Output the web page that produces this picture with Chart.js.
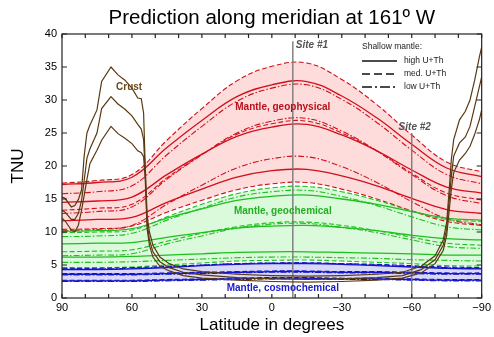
<!DOCTYPE html>
<html>
<head>
<meta charset="utf-8">
<script src="https://cdn.jsdelivr.net/npm/chart.js@4.4.0/dist/chart.umd.min.js"></script>
<style>
  html, body { margin: 0; padding: 0; background: #fff; }
</style>
</head>
<body>
<canvas id="chart" width="494" height="337"></canvas>
<script>
// latitudes for the mantle curves (north to south)
const mantleLat = [90, 75, 60, 45, 30, 15, 0, -15, -30, -45, -60, -75, -90];

// Mantle, geophysical
const physHighUp  = [17.2, 17.5, 18.3, 22.8, 26.9, 30.5, 32.3, 32.8, 30.6, 27.3, 23.3, 19.7, 18.4];
const physHighMid = [14.5, 14.7, 15.3, 18.7, 21.8, 24.5, 25.9, 26.3, 24.7, 22.3, 19.4, 16.8, 15.9];
const physHighLo  = [11.7, 11.9, 12.2, 14.5, 16.5, 18.3, 19.3, 19.5, 18.5, 17.0, 15.1, 13.4, 12.8];
const physMedUp   = [17.4, 17.8, 18.7, 23.9, 28.7, 32.9, 35.1, 35.6, 33.1, 29.3, 24.7, 20.6, 19.1];
const physMedMid  = [13.3, 13.6, 14.2, 18.2, 21.7, 24.8, 26.4, 26.8, 25.0, 22.3, 18.9, 15.9, 14.85];
const physMedLo   = [10.4, 10.5, 10.9, 13.0, 14.8, 16.4, 17.3, 17.5, 16.5, 15.0, 13.2, 11.6, 11.0];
const physLowUp   = [15.8, 16.1, 17.0, 21.7, 26.0, 29.8, 31.8, 32.3, 30.1, 26.6, 22.4, 18.7, 17.3];
const physLowMid  = [12.8, 13.1, 13.8, 18.0, 21.7, 25.0, 26.8, 27.2, 25.3, 22.3, 18.7, 15.5, 14.3];
const physLowLo   = [10.2, 10.4, 11.0, 14.2, 17.1, 19.7, 21.1, 21.4, 19.9, 17.5, 14.6, 12.0, 11.1];

// Mantle, geochemical
const chemHighUp  = [10.1, 10.2, 10.5, 12.1, 13.5, 14.8, 15.4, 15.6, 15.0, 14.2, 13.1, 12.1, 11.8];
const chemHighMid = [8.2, 8.3, 8.4, 9.2, 9.9, 10.6, 10.9, 11.0, 10.7, 10.2, 9.5, 9.0, 8.8];
const chemHighLo  = [6.2, 6.2, 6.3, 6.5, 6.7, 6.9, 7.0, 7.0, 6.9, 6.8, 6.7, 6.5, 6.5];
const chemMedUp   = [9.9, 10.0, 10.3, 12.3, 14.2, 15.8, 16.7, 16.9, 16.1, 14.8, 13.2, 11.9, 11.6];
const chemMedMid  = [7.0, 7.1, 7.3, 8.6, 9.8, 10.8, 11.4, 11.5, 11.0, 10.2, 9.2, 8.3, 8.0];
const chemMedLo   = [4.6, 4.6, 4.7, 5.0, 5.3, 5.6, 5.7, 5.75, 5.6, 5.4, 5.2, 4.9, 4.85];
const chemLowUp   = [9.3, 9.4, 9.8, 11.8, 13.6, 15.3, 16.1, 16.3, 15.4, 14.0, 12.3, 10.8, 10.3];
const chemLowMid  = [6.4, 6.5, 6.7, 8.2, 9.4, 10.6, 11.2, 11.3, 10.7, 9.9, 8.8, 7.8, 7.5];
const chemLowLo   = [5.4, 5.4, 5.5, 5.7, 5.9, 6.1, 6.2, 6.2, 6.1, 6.0, 5.8, 5.7, 5.6];

// Mantle, cosmochemical
const cosmHighUp  = [4.3, 4.3, 4.4, 4.6, 4.9, 5.1, 5.2, 5.2, 5.1, 4.9, 4.7, 4.5, 4.4];
const cosmHighMid = [3.6, 3.6, 3.6, 3.7, 3.8, 3.9, 4.0, 4.0, 3.9, 3.9, 3.8, 3.7, 3.7];
const cosmHighLo  = [2.6, 2.6, 2.6, 2.7, 2.8, 2.9, 3.0, 3.0, 2.9, 2.9, 2.8, 2.7, 2.7];
const cosmMedUp   = [4.5, 4.5, 4.6, 4.8, 5.0, 5.2, 5.3, 5.35, 5.2, 5.1, 4.9, 4.7, 4.6];
const cosmMedMid  = [3.7, 3.7, 3.7, 3.8, 3.9, 4.0, 4.1, 4.1, 4.0, 4.0, 3.9, 3.8, 3.8];
const cosmMedLo   = [2.7, 2.7, 2.7, 2.8, 2.9, 3.0, 3.1, 3.1, 3.0, 3.0, 2.9, 2.8, 2.8];
const cosmLowUp   = [4.4, 4.4, 4.5, 4.7, 5.0, 5.2, 5.3, 5.3, 5.2, 5.0, 4.8, 4.6, 4.5];
const cosmLowMid  = [3.5, 3.5, 3.5, 3.6, 3.7, 3.8, 3.9, 3.9, 3.8, 3.8, 3.7, 3.6, 3.6];
const cosmLowLo   = [2.5, 2.5, 2.5, 2.6, 2.7, 2.8, 2.9, 2.9, 2.8, 2.8, 2.7, 2.6, 2.6];

// Crust (three models)
const crustLat  = [90, 88.7, 86, 84.5, 83, 81.6, 80.5, 79.3, 78, 75, 73, 69, 66, 63, 60, 57.5, 56, 55, 54.3, 53.5,
                   52.5, 51, 48, 44, 38, 30, 15, 0, -15, -30, -45, -56, -64, -70, -73.5, -75, -76, -77, -78, -80.5,
                   -83, -85, -87, -89, -90];
const crustHigh = [15.3, 15.1, 13.8, 14.0, 14.9, 16.4, 21.5, 25.0, 26.2, 28.5, 32.8, 35.0, 33.8, 33.0, 31.8, 30.3, 30.2, 28.0, 20.0, 12.5,
                   10.0, 8.0, 6.2, 5.2, 4.4, 4.0, 3.6, 3.4, 3.3, 3.4, 3.6, 3.9, 4.8, 6.4, 8.8, 11.5, 16.0, 21.0, 24.0, 27.0,
                   28.3, 30.0, 33.0, 36.5, 38.0];
const crustMid  = [13.3, 13.0, 11.9, 11.9, 12.8, 14.8, 17.8, 21.2, 22.6, 25.0, 28.7, 30.5, 29.4, 28.6, 27.6, 26.3, 25.6, 24.0, 19.0, 11.5,
                   8.8, 7.0, 5.5, 4.6, 3.9, 3.5, 3.1, 2.9, 2.8, 2.9, 3.1, 3.4, 4.3, 5.8, 8.0, 10.5, 14.5, 18.5, 21.5, 23.5,
                   24.4, 26.0, 29.0, 32.0, 33.5];
const crustLow  = [12.1, 11.7, 10.3, 10.0, 11.0, 13.3, 15.5, 18.0, 20.4, 22.4, 23.9, 26.0, 24.9, 24.2, 23.4, 22.3, 22.0, 21.4, 18.0, 10.5,
                   8.0, 6.2, 4.8, 4.1, 3.4, 3.0, 2.7, 2.5, 2.4, 2.5, 2.7, 3.0, 3.8, 5.2, 7.2, 9.5, 13.0, 16.5, 19.0, 20.9,
                   21.9, 23.0, 24.8, 27.0, 28.5];

// sites
const siteLat = [-9, -60];
const siteTop = [38.9, 25.0];
const siteNames = ['Site #1', 'Site #2'];

const FONT = "'Liberation Sans', Arial, Helvetica, sans-serif";
const RED = '#d0101c', GREEN = '#1fbf1f', BLUE = '#1414c8', BROWN = '#5a3912';
const DASH = { high: [], med: [5, 2.5], low: [6, 2, 1.5, 2] };

function mantleLine(values, color, style) {
    return {
        data: mantleLat.map((lat, i) => ({ x: lat, y: values[i] })),
        borderColor: color,
        borderWidth: style === 'high' ? 1.3 : 1.1,
        borderDash: DASH[style],
        pointRadius: 0,
        tension: 0.4,
        fill: false
    };
}

function crustLine(values) {
    return {
        data: crustLat.map((lat, i) => ({ x: lat, y: values[i] })),
        borderColor: BROWN,
        borderWidth: 1.2,
        pointRadius: 0,
        tension: 0,
        fill: false
    };
}

const datasets = [];
datasets.push(crustLine(crustHigh), crustLine(crustMid), crustLine(crustLow));
siteLat.forEach((lat, i) => {
    datasets.push({
        data: [{ x: lat, y: 0 }, { x: lat, y: siteTop[i] }],
        borderColor: '#7a7a7a', borderWidth: 1.4, pointRadius: 0, fill: false
    });
});

function addBand(lines, color, fillColor) {
    const start = datasets.length;
    lines.forEach(([vals, style]) => datasets.push(mantleLine(vals, color, style)));
    // fill between the band's upper (first) and lower (last) line
    datasets[start].fill = { target: start + lines.length - 1 };
    datasets[start].backgroundColor = fillColor;
}

addBand([[cosmMedUp, 'med'], [cosmHighUp, 'high'], [cosmLowUp, 'low'],
         [cosmHighMid, 'high'], [cosmMedMid, 'med'], [cosmLowMid, 'low'],
         [cosmHighLo, 'high'], [cosmMedLo, 'med'], [cosmLowLo, 'low']], BLUE, '#d9d9f7');
addBand([[chemMedUp, 'med'], [chemHighUp, 'high'], [chemLowUp, 'low'],
         [chemHighMid, 'high'], [chemLowMid, 'low'], [chemHighLo, 'high'],
         [chemLowLo, 'low'], [chemMedMid, 'med'], [chemMedLo, 'med']], GREEN, '#dbf9db');
addBand([[physMedUp, 'med'], [physHighUp, 'high'], [physLowUp, 'low'],
         [physHighMid, 'high'], [physMedMid, 'med'], [physLowMid, 'low'],
         [physHighLo, 'high'], [physLowLo, 'low'], [physMedLo, 'med']], RED, '#ffdcdc');

// text labels placed in data coordinates
const labelText  = ['Crust', 'Mantle, geophysical', 'Mantle, geochemical', 'Mantle, cosmochemical'];
const labelLat   = [61.2, -4.7, -4.7, -4.7];
const labelTNU   = [31.9, 28.9, 13.2, 1.5];
const labelColor = ['#6b4818', '#b8101a', '#22b022', '#1a1ad0'];

const decor = {
    id: 'decor',
    afterDraw(chart) {
        const { ctx, chartArea: a, scales: { x, y } } = chart;
        ctx.save();

        // frame with inward ticks
        ctx.strokeStyle = '#222';
        ctx.lineWidth = 1.2;
        ctx.strokeRect(a.left, a.top, a.right - a.left, a.bottom - a.top);
        ctx.beginPath();
        x.ticks.forEach(t => {
            const px = x.getPixelForValue(t.value);
            ctx.moveTo(px, a.bottom); ctx.lineTo(px, a.bottom - 4);
            ctx.moveTo(px, a.top); ctx.lineTo(px, a.top + 4);
        });
        y.ticks.forEach(t => {
            const py = y.getPixelForValue(t.value);
            ctx.moveTo(a.left, py); ctx.lineTo(a.left + 5, py);
            ctx.moveTo(a.right, py); ctx.lineTo(a.right - 5, py);
        });
        ctx.stroke();

        // band labels
        ctx.textAlign = 'center';
        ctx.textBaseline = 'middle';
        ctx.font = 'bold 10px ' + FONT;
        labelText.forEach((txt, i) => {
            ctx.fillStyle = labelColor[i];
            ctx.fillText(txt, x.getPixelForValue(labelLat[i]), y.getPixelForValue(labelTNU[i]));
        });

        // site labels
        ctx.font = 'italic bold 10px ' + FONT;
        ctx.fillStyle = '#555';
        ctx.textAlign = 'left';
        ctx.fillText(siteNames[0], x.getPixelForValue(siteLat[0]) + 3, y.getPixelForValue(siteTop[0]) + 4);
        ctx.textAlign = 'center';
        ctx.fillText(siteNames[1], x.getPixelForValue(siteLat[1]) + 3, y.getPixelForValue(siteTop[1]) - 6);

        // legend
        const lx = a.left + 300, ly = a.top + 13;
        ctx.fillStyle = '#222';
        ctx.textAlign = 'left';
        ctx.font = '8.5px ' + FONT;
        ctx.fillText('Shallow mantle:', lx, ly);
        const rows = [['high U+Th', []], ['med. U+Th', [8, 4]], ['low U+Th', [10, 3, 2, 3]]];
        rows.forEach(([txt, dash], i) => {
            const yy = ly + 14 + i * 13;
            ctx.strokeStyle = '#111';
            ctx.lineWidth = 1.3;
            ctx.setLineDash(dash);
            ctx.beginPath();
            ctx.moveTo(lx, yy); ctx.lineTo(lx + 35, yy);
            ctx.stroke();
            ctx.setLineDash([]);
            ctx.fillText(txt, lx + 42, yy);
        });
        ctx.restore();
    }
};

new Chart(document.getElementById('chart'), {
    type: 'line',
    data: { datasets },
    options: {
        responsive: false,
        animation: false,
        layout: { padding: { left: 0, right: 10, top: 0, bottom: 0 } },
        plugins: {
            legend: { display: false },
            tooltip: { enabled: false },
            filler: { drawTime: 'beforeDatasetsDraw' },
            title: {
                display: true,
                text: 'Prediction along meridian at 161º W',
                fullSize: false,
                color: '#000',
                font: { family: FONT, size: 20.5, weight: 'normal', lineHeight: 1.2 },
                padding: { top: 6, bottom: 3.4 }
            }
        },
        scales: {
            x: {
                type: 'linear',
                min: -90, max: 90,
                reverse: true,
                grid: { display: false, drawTicks: false },
                border: { display: false },
                ticks: {
                    stepSize: 10,
                    autoSkip: false,
                    maxRotation: 0,
                    padding: 3,
                    color: '#000',
                    font: { family: FONT, size: 11 },
                    callback: v => v % 30 === 0 ? (v < 0 ? '\u2212' + (-v) : String(v)) : ''
                },
                title: {
                    display: true, text: 'Latitude in degrees', color: '#000',
                    font: { family: FONT, size: 17 }, padding: { top: 0, bottom: 1 }
                },
                afterFit: s => { s.height = 39; }
            },
            y: {
                min: 0, max: 40,
                grid: { display: false, drawTicks: false },
                border: { display: false },
                ticks: {
                    stepSize: 5, padding: 5, color: '#000',
                    font: { family: FONT, size: 11 }
                },
                title: {
                    display: true, text: 'TNU', color: '#000',
                    font: { family: FONT, size: 17 }, padding: { top: 8, bottom: 0 }
                },
                afterFit: s => { s.width = 62; }
            }
        }
    },
    plugins: [decor]
});
</script>
</body>
</html>
